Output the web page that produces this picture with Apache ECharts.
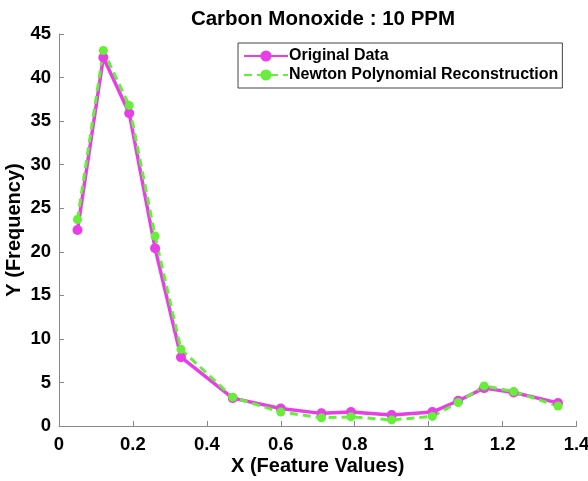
<!DOCTYPE html>
<html>
<head>
<meta charset="utf-8">
<script src="https://cdn.jsdelivr.net/npm/echarts@6/dist/echarts.min.js"></script>
<style>
html,body{margin:0;padding:0;background:#fff;}
#chart{width:588px;height:481px;}
</style>
</head>
<body>
<div id="chart"></div>
<script>
var xValues = [0.05, 0.12, 0.19, 0.26, 0.33, 0.47, 0.60, 0.71, 0.79, 0.90, 1.01, 1.08, 1.15, 1.23, 1.35];
var originalData = [22.5, 42.3, 35.9, 20.4, 7.9, 3.2, 2.0, 1.45, 1.6, 1.25, 1.6, 2.9, 4.35, 3.85, 2.65];
var newtonData = [23.7, 43.1, 36.8, 21.8, 8.8, 3.3, 1.6, 0.95, 1.05, 0.7, 1.1, 2.7, 4.6, 3.95, 2.3];
var xTickLabels = ['0', '0.2', '0.4', '0.6', '0.8', '1', '1.2', '1.4'];
var yTickLabels = ['0', '5', '10', '15', '20', '25', '30', '35', '40', '45'];

function pairs(xs, ys) { return xs.map(function (x, i) { return [x, ys[i]]; }); }

var font = 'Liberation Sans, Arial, Helvetica, sans-serif';
var chart = echarts.init(document.getElementById('chart'), null, {renderer: 'canvas'});
chart.setOption({
  animation: false,
  backgroundColor: '#ffffff',
  title: {
    text: 'Carbon Monoxide : 10 PPM',
    left: 318, top: 4, textAlign: 'center',
    textStyle: {fontFamily: font, fontWeight: 'bold', fontSize: 20.5, color: '#000'}
  },
  legend: {
    orient: 'vertical',
    left: 238, top: 43,
    padding: [5, 4, 5, 5],
    itemGap: 3,
    itemWidth: 44, itemHeight: 14,
    borderColor: '#444', borderWidth: 1,
    backgroundColor: '#fff',
    textStyle: {fontFamily: font, fontWeight: 'bold', fontSize: 16, color: '#000', padding: [0, 0, 0, -4]},
    data: ['Original Data', 'Newton Polynomial Reconstruction']
  },
  grid: {left: 59, right: 11.5, top: 34, bottom: 55, containLabel: false, outerBoundsMode: 'none'},
  xAxis: {
    type: 'value', min: 0, max: 1.4, interval: 0.2,
    name: 'X (Feature Values)', nameLocation: 'middle', nameGap: 30, nameMoveOverlap: false,
    nameTextStyle: {fontFamily: font, fontWeight: 'bold', fontSize: 20, color: '#000'},
    axisLine: {show: true, lineStyle: {color: '#888', width: 1}},
    axisTick: {show: true, inside: true, length: 5, lineStyle: {color: '#888'}},
    axisLabel: {
      fontFamily: font, fontWeight: 'bold', fontSize: 18.5, color: '#000', margin: 9,
      formatter: function (v) { return xTickLabels[Math.round(v / 0.2)]; }
    },
    splitLine: {show: false}
  },
  yAxis: {
    type: 'value', min: 0, max: 45, interval: 5,
    name: 'Y (Frequency)', nameLocation: 'middle', nameGap: 35, nameMoveOverlap: false,
    nameTextStyle: {fontFamily: font, fontWeight: 'bold', fontSize: 20, color: '#000'},
    axisLine: {show: true, lineStyle: {color: '#888', width: 1}},
    axisTick: {show: true, inside: true, length: 5, lineStyle: {color: '#888'}},
    axisLabel: {
      fontFamily: font, fontWeight: 'bold', fontSize: 18.5, color: '#000', margin: 8,
      formatter: function (v) { return yTickLabels[Math.round(v / 5)]; }
    },
    splitLine: {show: false}
  },
  series: [
    {
      name: 'Original Data', type: 'line',
      data: pairs(xValues, originalData),
      symbol: 'circle', symbolSize: 10,
      itemStyle: {color: '#e83ee8'},
      lineStyle: {color: '#e83ee8', width: 3.5, type: 'solid'}
    },
    {
      name: 'Newton Polynomial Reconstruction', type: 'line',
      data: pairs(xValues, newtonData),
      symbol: 'circle', symbolSize: 9,
      itemStyle: {color: '#66ee3a'},
      lineStyle: {color: '#66ee3a', width: 3, type: [8, 5]}
    }
  ]
});
</script>
</body>
</html>
